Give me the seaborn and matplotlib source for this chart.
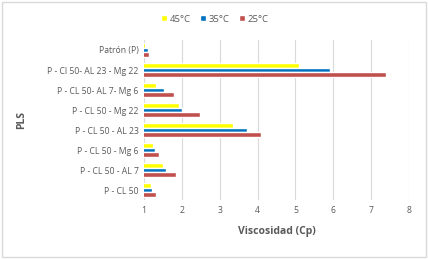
import pandas as pd
import matplotlib.pyplot as plt
import seaborn as sns

# categories (top to bottom as in the chart)
muestras = ["Patrón (P)", "P - Cl 50- AL 23 - Mg 22", "P - CL 50- AL 7- Mg 6",
            "P - CL 50 - Mg 22", "P - CL 50 - AL 23", "P - CL 50 - Mg 6",
            "P - CL 50 - AL 7", "P - CL 50"]
visc_45 = [1.03, 5.1, 1.31, 1.93, 3.36, 1.23, 1.5, 1.19]
visc_35 = [1.1, 5.9, 1.53, 2.0, 3.72, 1.29, 1.59, 1.2]
visc_25 = [1.13, 7.4, 1.78, 2.48, 4.08, 1.39, 1.84, 1.31]
temps = ["45°C", "35°C", "25°C"]
colores = ["#FFFF00", "#0070C0", "#C0504D"]

df = pd.DataFrame({
    "muestra": muestras * 3,
    "temp": [t for t in temps for _ in muestras],
    "visc": visc_45 + visc_35 + visc_25,
})

sns.set_style("white")
plt.rcParams['font.family'] = ['Open Sans', 'DejaVu Sans']

fig = plt.figure(figsize=(4.28, 2.59), dpi=100)
ax = fig.add_axes([144 / 428, 1 - 200 / 259, 265 / 428, 160 / 259])

sns.barplot(data=df, y="muestra", x="visc", hue="temp", hue_order=temps,
            palette=colores, saturation=1, orient="h", width=0.72, ax=ax, legend=True)

ax.set_xlim(1, 8)
ax.set_xticks(range(1, 9))
ax.grid(axis="x", color="#D9D9D9", linewidth=0.8)
ax.set_axisbelow(True)
for s in ax.spines.values():
    s.set_visible(False)
ax.tick_params(axis="both", length=0, labelsize=6.2, colors="#595959", pad=4)
ax.set_xlabel("Viscosidad (Cp)", fontsize=7.5, fontweight="bold", color="#595959", labelpad=8)
ax.set_ylabel("PLS", fontsize=7.5, fontweight="bold", color="#595959", labelpad=8)
ax.yaxis.set_label_coords(-0.44, 0.5)

leg = fig.legend(*ax.get_legend_handles_labels(), loc="center", bbox_to_anchor=(215 / 428, 1 - 19 / 259),
                 ncol=3, frameon=False, fontsize=6.8, handlelength=0.6, handleheight=0.6,
                 handletextpad=0.3, columnspacing=1.0, labelcolor="#595959")
ax.get_legend().remove()

fig.patches.append(plt.Rectangle((0.004, 0.006), 0.992, 0.988, transform=fig.transFigure,
                                 fill=False, edgecolor="#D9D9D9", linewidth=1))

fig.savefig("out.png", dpi=100)
